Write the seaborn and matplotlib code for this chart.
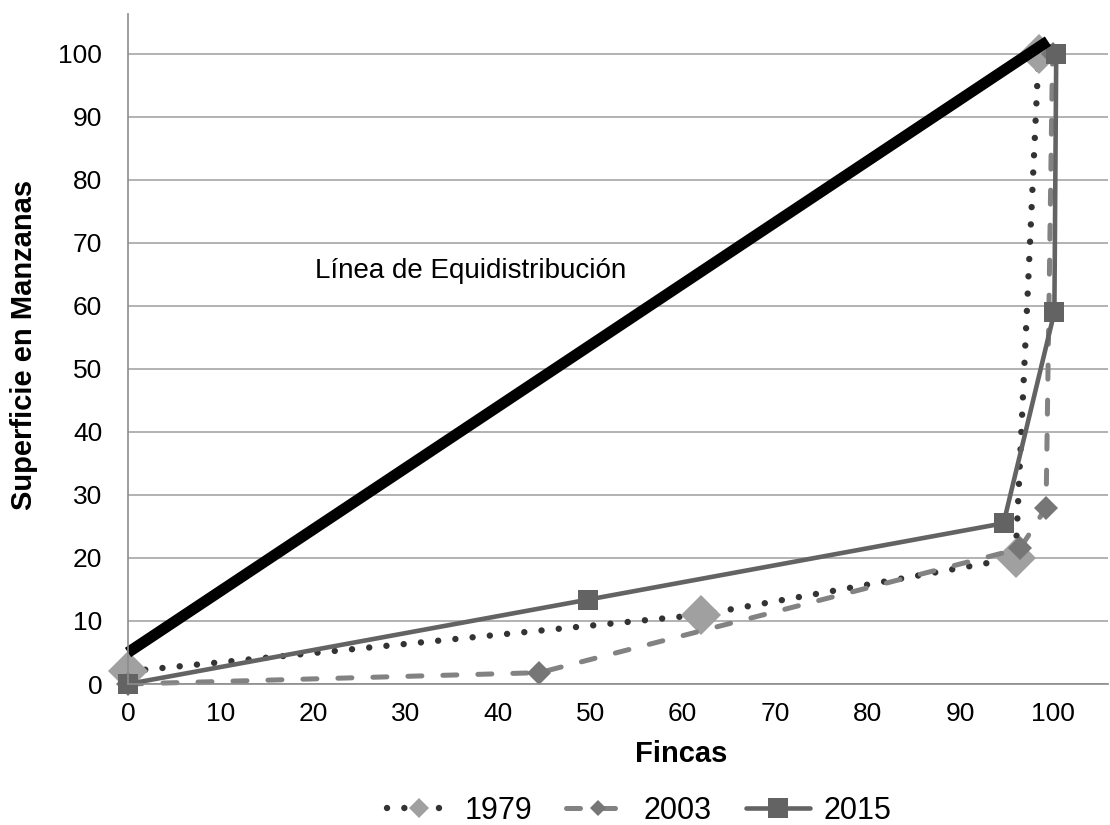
import matplotlib
matplotlib.use("Agg")
import matplotlib.pyplot as plt
import seaborn as sns
import pandas as pd

# Curvas de Lorenz
x_1979 = [0, 62, 96, 98.5]
y_1979 = [2, 11, 20, 100]

x_2003 = [0, 44.5, 96.5, 99.3, 100]
y_2003 = [0, 1.8, 21.5, 28, 100]

x_2015 = [0, 49.8, 94.7, 100.2, 100.4]
y_2015 = [0, 13.4, 25.5, 59, 100]

equi_x = [0, 99.5]
equi_y = [5, 102]

x_ticks = [0, 10, 20, 30, 40, 50, 60, 70, 80, 90, 100]
y_ticks = [0, 10, 20, 30, 40, 50, 60, 70, 80, 90, 100]


def main():
    sns.set_style("white")
    plt.rcParams['font.family'] = ['Liberation Sans', 'DejaVu Sans']
    plt.rcParams['text.color'] = 'black'
    plt.rcParams['xtick.labelcolor'] = 'black'
    plt.rcParams['ytick.labelcolor'] = 'black'

    fig = plt.figure(figsize=(11.1, 8.25), dpi=100)
    ax = fig.add_axes([0.1153, 0.1709, 0.8829, 0.8121])

    df79 = pd.DataFrame({'x': x_1979, 'y': y_1979})
    df03 = pd.DataFrame({'x': x_2003, 'y': y_2003})
    df15 = pd.DataFrame({'x': x_2015, 'y': y_2015})
    dfeq = pd.DataFrame({'x': equi_x, 'y': equi_y})

    common = dict(ax=ax, sort=False, estimator=None, legend=False,
                  markeredgewidth=0, clip_on=False)

    sns.lineplot(data=df79, x='x', y='y', color='#333333', lw=4.6,
                 linestyle=(0, (0.01, 2.7)), dash_capstyle='round',
                 marker='D', markersize=20, markerfacecolor='#a0a0a0',
                 markeredgecolor='#a0a0a0', label='1979', **common)
    sns.lineplot(data=df03, x='x', y='y', color='#828282', lw=3.6,
                 linestyle=(0, (2.8, 4.2)), dash_capstyle='round',
                 marker='D', markersize=12, markerfacecolor='#767676',
                 markeredgecolor='#767676', label='2003', **common)
    sns.lineplot(data=df15, x='x', y='y', color='#636363', lw=3.3,
                 marker='s', markersize=15, markerfacecolor='#636363',
                 markeredgecolor='#636363', label='2015', **common)
    sns.lineplot(data=dfeq, x='x', y='y', color='black', lw=8,
                 solid_capstyle='butt', **common)

    ax.text(20.2, 64.4, 'Línea de Equidistribución', fontsize=20,
            va='baseline', ha='left', color='black')

    ax.set_xlim(0, 106)
    ax.set_ylim(0, 106.3)
    ax.set_xticks(x_ticks)
    ax.set_yticks(y_ticks)
    ax.tick_params(axis='x', labelsize=19, length=5, width=1.2,
                   color='#8c8c8c', pad=8, direction='out',
                   labelcolor='black')
    ax.tick_params(axis='y', labelsize=19, length=7, width=1.2,
                   color='#8c8c8c', pad=11.5, direction='out',
                   labelcolor='black')
    ax.set_xlabel('')
    ax.set_ylabel('')

    ax.yaxis.grid(True, color='#a6a6a6', lw=1.2)
    ax.xaxis.grid(False)
    ax.set_axisbelow(True)
    for side in ['top', 'right']:
        ax.spines[side].set_visible(False)
    for side in ['left', 'bottom']:
        ax.spines[side].set_color('#8c8c8c')
        ax.spines[side].set_linewidth(1.2)

    fig.text(681 / 1110, 1 - 762 / 825, 'Fincas', fontsize=21,
             fontweight='bold', ha='center', va='baseline', color='black')
    fig.text(24.5 / 1110, 1 - 345 / 825, 'Superficie en Manzanas',
             fontsize=21, fontweight='bold', rotation=90,
             ha='center', va='center', color='black')

    lines = ax.get_lines()[:3]
    leg = fig.legend(lines, ['1979', '2003', '2015'], loc='center',
                     bbox_to_anchor=(639 / 1110, 1 - 811 / 825), ncol=3,
                     frameon=False, fontsize=22, handlelength=2.1,
                     handletextpad=0.45, columnspacing=1.1)
    for h, ms in zip(leg.legend_handles, [10, 8.5, 14]):
        h.set_markersize(ms)
    for t in leg.get_texts():
        t.set_color('black')

    plt.savefig('out.png', dpi=100)


if __name__ == "__main__":
    main()
